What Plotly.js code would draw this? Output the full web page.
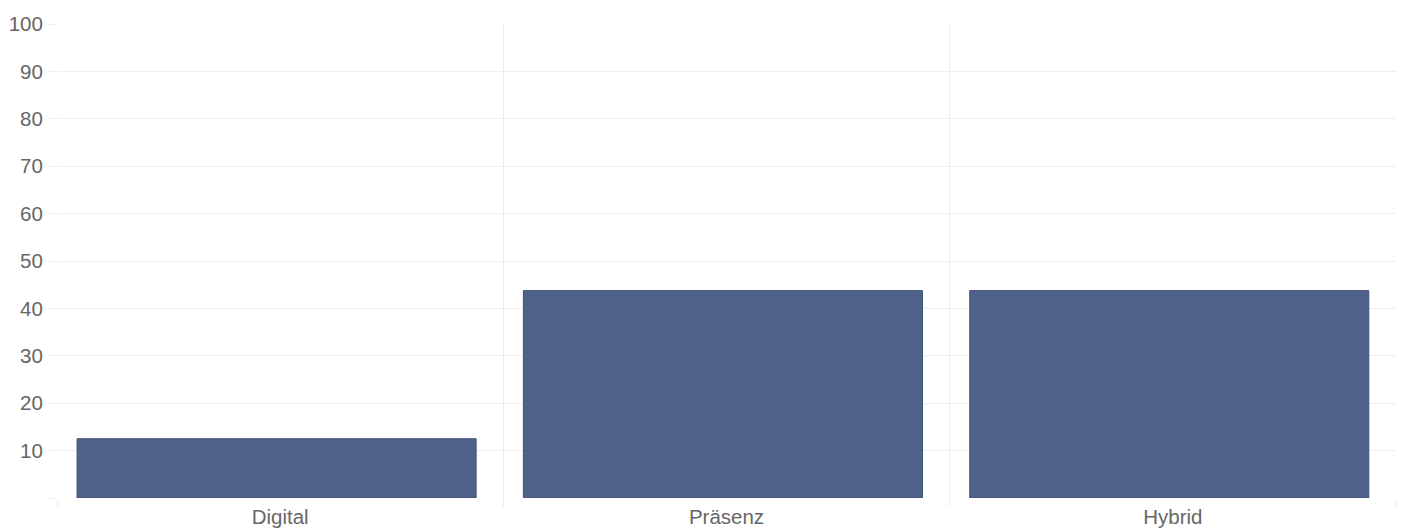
<!DOCTYPE html>
<html>
<head>
<meta charset="utf-8">
<script src="https://cdn.plot.ly/plotly-3.0.1.min.js"></script>
<style>html,body{margin:0;padding:0;background:#fff;}#chart{width:1411px;height:528px;}</style>
</head>
<body>
<div id="chart"></div>
<script>
const categories = ["Digital", "Präsenz", "Hybrid"];
const values = [12.5, 43.75, 43.75];
const yTickVals = [0, 10, 20, 30, 40, 50, 60, 70, 80, 90, 100];
const yTickText = ["", "10", "20", "30", "40", "50", "60", "70", "80", "90", "100"];

const gridColor = "#eeeeee";
const fontSpec = {family: "Liberation Sans, Arial, sans-serif", size: 20.5, color: "#666666"};

const traces = [
  {
    type: "bar",
    x: categories,
    y: values,
    width: 0.894,
    offset: -0.455,
    marker: {color: "#506289", line: {color: "#3d4f78", width: 1}},
    hoverinfo: "x+y"
  },
  {
    type: "scatter",
    x: [-0.5, 2.5],
    y: [null, null],
    xaxis: "x2",
    yaxis: "y",
    mode: "markers",
    showlegend: false,
    hoverinfo: "skip"
  }
];

const layout = {
  width: 1411,
  height: 528,
  margin: {l: 57, r: 15, t: 24, b: 30},
  paper_bgcolor: "#ffffff",
  plot_bgcolor: "#ffffff",
  showlegend: false,
  font: fontSpec,
  xaxis: {
    type: "category",
    range: [-0.5, 2.5],
    showgrid: false,
    zeroline: false,
    showline: false,
    ticks: "",
    tickfont: fontSpec,
    ticklabelstandoff: 4,
    fixedrange: true
  },
  xaxis2: {
    overlaying: "x",
    anchor: "y",
    side: "bottom",
    type: "linear",
    range: [-0.5, 2.5],
    tickvals: [-0.5, 0.5, 1.5, 2.5],
    showticklabels: false,
    showgrid: true,
    gridcolor: gridColor,
    gridwidth: 1,
    ticks: "outside",
    ticklen: 8,
    tickcolor: gridColor,
    zeroline: false,
    showline: false,
    layer: "below traces"
  },
  yaxis: {
    range: [0, 100],
    tickvals: yTickVals,
    ticktext: yTickText,
    showgrid: true,
    gridcolor: gridColor,
    gridwidth: 1,
    ticks: "outside",
    ticklen: 8,
    tickcolor: gridColor,
    zeroline: false,
    showline: false,
    tickfont: fontSpec,
    ticklabelstandoff: 1,
    fixedrange: true
  }
};

Plotly.newPlot("chart", traces, layout, {displayModeBar: false, staticPlot: true});
</script>
</body>
</html>
